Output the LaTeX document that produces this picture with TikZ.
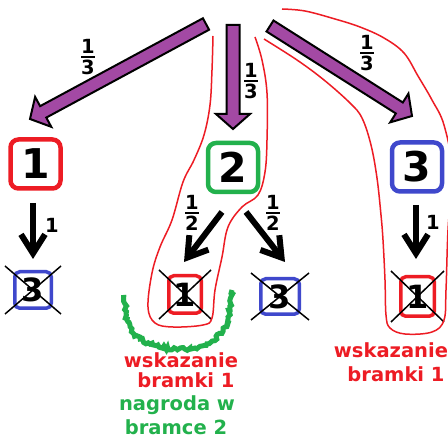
\documentclass[tikz,border=0pt]{standalone}
\usepackage{amsmath}
\usepackage{fontspec}
\setmainfont{DejaVu Sans}
\usetikzlibrary{arrows.meta,calc,decorations.pathmorphing}

\definecolor{pred}{RGB}{237,28,36}
\definecolor{pgreen}{RGB}{34,177,76}
\definecolor{pblue}{RGB}{63,72,204}
\definecolor{ppurple}{RGB}{163,73,164}

% stacked fraction used for the probabilities
\newcommand{\fr}[2]{$\genfrac{}{}{2pt}{1}{\mbox{#1}}{\mbox{#2}}$}

% thick purple block arrow from #1 to #2
\newcommand{\fatarrow}[2]{%
  \coordinate (#1-#2-h) at ($(#2)!15pt!(#1)$);
  \filldraw[fatarrow]
    ($(#1)!6.5pt!90:(#2)$) -- ($(#1-#2-h)!6.5pt!90:(#2)$) --
    ($(#1-#2-h)!17pt!90:(#2)$) -- (#2) --
    ($(#1-#2-h)!17pt!-90:(#2)$) -- ($(#1-#2-h)!6.5pt!-90:(#2)$) --
    ($(#1)!6.5pt!-90:(#2)$) -- cycle;}

\tikzset{
  bigbox/.style={draw, line width=4.5pt, rounded corners=8pt, inner sep=0pt,
    minimum width=50pt, minimum height=49pt,
    font=\bfseries\fontsize{41}{41}\selectfont},
  smallbox/.style={draw, line width=3.5pt, rounded corners=5pt, inner sep=0pt,
    minimum width=35pt, minimum height=37pt,
    font=\bfseries\fontsize{32}{32}\selectfont},
  crossline/.style={line width=1.5pt, black},
  fatarrow/.style={fill=ppurple, draw=black, line width=2pt, line join=miter},
  barrow/.style={line width=6pt, -{Straight Barb[length=19pt,width=24pt]}},
  prob/.style={font=\bfseries\fontsize{19.5}{19.5}\selectfont, inner sep=0pt},
  redline/.style={pred, line width=1.5pt},
  scribble/.style={pgreen, line width=5pt,
    decorate, decoration={random steps, segment length=2pt, amplitude=1.6pt}},
  caption/.style={font=\bfseries\fontsize{19.5}{19.5}\selectfont, inner sep=0pt, anchor=base}
}

\begin{document}
\begin{tikzpicture}[x=1pt, y=-1pt]
\pgfmathsetseed{7}
\fill[white] (0,0) rectangle (448,441);
\clip (0,0) rectangle (448,441);

% the three doors
\node[bigbox, draw=pred]   (b1) at (35.5,164)   {1};
\node[bigbox, draw=pgreen] (b2) at (233,167.5)  {2};
\node[bigbox, draw=pblue]  (b3) at (417,167)    {3};

% doors opened by the host
\node[smallbox, draw=pblue, minimum width=36.5pt, minimum height=36.5pt] (s1) at (33,290) {3};
\node[smallbox, draw=pred,  minimum width=32.5pt, minimum height=37.5pt] (s2) at (185,294.5) {1};
\node[smallbox, draw=pblue, minimum width=38.5pt, minimum height=35.5pt] (s3) at (280,296.5) {3};
\node[smallbox, draw=pred,  minimum width=33.5pt, minimum height=39.5pt] (s4) at (417.5,296.5) {1};

\foreach \s in {s1,s2,s3,s4}{
  \draw[crossline] ($(\s.north west)+(-8,-4)$) -- ($(\s.south east)+(8,4)$);
  \draw[crossline] ($(\s.north east)+(8,-4)$) -- ($(\s.south west)+(-8,4)$);
}

% first choice: purple arrows
\coordinate (t1) at (206,24);  \coordinate (h1) at (30,119);
\coordinate (t2) at (233,25);  \coordinate (h2) at (233,129);
\coordinate (t3) at (270,26);  \coordinate (h3) at (412,116);
\fatarrow{t1}{h1}
\fatarrow{t2}{h2}
\fatarrow{t3}{h3}

\node[prob] (p1) at (88,57)  {\fr{1}{3}};
\node[prob] (p2) at (251,81) {\fr{1}{3}};
\node[prob] (p3) at (367,53) {\fr{1}{3}};

% host's move: black arrows
\coordinate (a1) at (33,203);   \coordinate (e1) at (33,259);
\coordinate (a2) at (222,212);  \coordinate (e2) at (184,262);
\coordinate (a3) at (246,212);  \coordinate (e3) at (285,262);
\coordinate (a4) at (416,205);  \coordinate (e4) at (416,259);
\draw[barrow] (a1) -- (e1);
\draw[barrow] (a2) -- (e2);
\draw[barrow] (a3) -- (e3);
\draw[barrow] (a4) -- (e4);

\node[prob] (q1) at (52,225)  {1};
\node[prob] (q2) at (192,213) {\fr{1}{2}};
\node[prob] (q3) at (273,213) {\fr{1}{2}};
\node[prob] (q4) at (433,222) {1};

% red outlines around the cases where door 1 is shown
\draw[redline] plot[smooth, tension=0.6] coordinates {
  (213,36) (212,70) (210,105) (204,135) (194,160) (183,182) (172,220)
  (160,247) (152,273) (148,307) (155,323) (173,327) (203,325) (212,318)
  (215,290) (222,257) (228,227) (242,207) (258,195) (265,172) (267,140)
  (267,93) (262,60) (255,37)};
\draw[redline] plot[smooth, tension=0.6] coordinates {
  (282,9) (305,11) (335,19) (360,27) (384,38) (404,53) (418,76) (432,100)
  (444,125) (452,170) (448,230) (446,290) (444,320) (432,332) (405,334)
  (390,328) (386,315) (385,280) (383,240) (381,215) (377,178) (371,145)
  (362,118) (350,103) (324,80) (297,60) (264,39)};

% green scribble under the prize door
\draw[scribble] plot[smooth] coordinates {
  (124,297) (127,320) (134,334) (150,344) (173,349) (195,348) (212,341)
  (225,327) (230,310) (232,290)};

% captions
\node[caption, text=pred]   (c1a) at (181,368) {wskazanie};
\node[caption, text=pred]   (c1b) at (186,388) {bramki 1};
\node[caption, text=pgreen] (c2a) at (177,410) {nagroda w};
\node[caption, text=pgreen] (c2b) at (176,435) {bramce 2};
\node[caption, text=pred]   (c3a) at (391,358) {wskazanie};
\node[caption, text=pred]   (c3b) at (396,382) {bramki 1};
\end{tikzpicture}
\end{document}
